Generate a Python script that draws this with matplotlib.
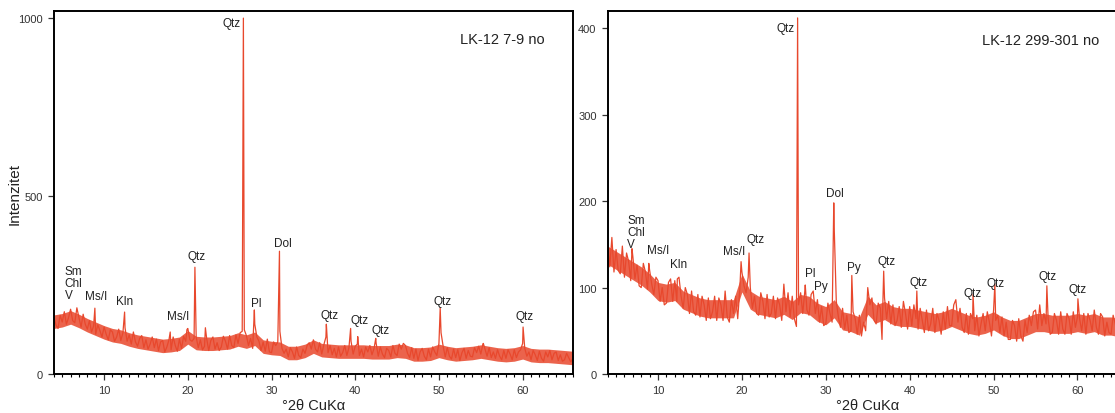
"""
XRD patterns of two LK-12 samples (non-oriented), side by side.
"""

import numpy as np
import matplotlib
matplotlib.use("Agg")
import matplotlib.pyplot as plt
from matplotlib.ticker import MultipleLocator

plt.rcParams["font.family"] = ["Liberation Sans", "DejaVu Sans"]

LINE_COLOR = "#e8482d"

# ---------------------------------------------------------------------------
# Data
# ---------------------------------------------------------------------------

# background scan, one value every 0.25 deg 2theta from 4 to 66
two_theta = np.arange(4, 66.01, 0.25)

left_counts = [
    160, 138, 128, 165,   # 4
    146, 175, 140, 158,   # 5
    182, 150, 144, 186,   # 6
    158, 132, 168, 140,   # 7
    126, 150, 118, 135,   # 8
    112, 138, 122, 104,   # 9
    132, 112, 96, 124,    # 10
    118, 92, 104, 126,    # 11
    94, 116, 130, 92,     # 12
    110, 84, 118, 90,     # 13
    78, 100, 108, 74,     # 14
    96, 70, 84, 104,      # 15
    74, 98, 66, 90,       # 16
    94, 62, 76, 96,       # 17
    68, 104, 80, 64,      # 18
    98, 72, 106, 92,      # 19
    128, 96, 92, 100,     # 20
    104, 74, 96, 68,      # 21
    78, 100, 66, 94,      # 22
    104, 70, 88, 66,      # 23
    76, 106, 92, 70,      # 24
    108, 80, 74, 110,     # 25
    86, 116, 120, 124,    # 26
    108, 80, 100, 72,     # 27
    140, 104, 92, 66,     # 28
    90, 64, 98, 62,       # 29
    60, 90, 80, 90,       # 30
    120, 72, 58, 70,      # 31
    48, 74, 62, 44,       # 32
    76, 52, 46, 70,       # 33
    58, 80, 88, 70,       # 34
    96, 70, 62, 88,       # 35
    56, 82, 104, 60,      # 36
    80, 54, 72, 48,       # 37
    76, 50, 60, 80,       # 38
    52, 74, 92, 56,       # 39
    78, 84, 52, 70,       # 40
    48, 76, 62, 80,       # 41
    54, 72, 86, 50,       # 42
    76, 56, 46, 72,       # 43
    66, 48, 80, 58,       # 44
    52, 84, 70, 86,       # 45
    80, 58, 46, 74,       # 46
    44, 70, 38, 62,       # 47
    72, 50, 40, 70,       # 48
    48, 76, 62, 52,       # 49
    86, 116, 78, 48,      # 50
    74, 50, 42, 70,       # 51
    46, 68, 38, 60,       # 52
    72, 44, 66, 50,       # 53
    48, 74, 60, 78,       # 54
    56, 84, 70, 50,       # 55
    74, 46, 62, 44,       # 56
    68, 50, 40, 66,       # 57
    44, 68, 56, 40,       # 58
    68, 46, 62, 68,       # 59
    86, 72, 50, 62,       # 60
    40, 66, 54, 38,       # 61
    64, 44, 36, 62,       # 62
    48, 66, 40, 58,       # 63
    62, 38, 54, 36,       # 64
    40, 58, 46, 34,       # 65
    44,
]

right_counts = [
    150, 124, 158, 118,   # 4
    144, 120, 116, 148,   # 5
    112, 140, 130, 108,   # 6
    136, 110, 126, 102,   # 7
    100, 128, 118, 98,    # 8
    120, 104, 92, 112,    # 9
    108, 84, 100, 80,     # 10
    82, 106, 110, 84,     # 11
    108, 84, 112, 90,     # 12
    76, 100, 92, 70,      # 13
    96, 72, 68, 92,       # 14
    66, 90, 80, 62,       # 15
    88, 64, 72, 90,       # 16
    62, 88, 80, 62,       # 17
    96, 66, 60, 86,       # 18
    70, 90, 64, 98,       # 19
    118, 102, 94, 112,    # 20
    100, 76, 90, 70,      # 21
    68, 94, 84, 64,       # 22
    92, 66, 70, 90,       # 23
    64, 88, 80, 62,       # 24
    104, 72, 94, 66,      # 25
    90, 64, 55, 80,       # 26
    94, 70, 96, 74,       # 27
    68, 92, 96, 70,       # 28
    86, 60, 78, 56,       # 29
    58, 82, 70, 60,       # 30
    170, 84, 66, 54,      # 31
    76, 52, 68, 48,       # 32
    50, 72, 64, 46,       # 33
    68, 44, 60, 50,       # 34
    100, 80, 88, 62,      # 35
    58, 82, 76, 62,       # 36
    88, 64, 84, 58,       # 37
    80, 56, 62, 78,       # 38
    54, 84, 70, 52,       # 39
    78, 56, 80, 64,       # 40
    52, 76, 62, 48,       # 41
    74, 50, 58, 76,       # 42
    48, 70, 62, 46,       # 43
    72, 52, 78, 56,       # 44
    56, 80, 86, 60,       # 45
    76, 54, 48, 70,       # 46
    46, 70, 64, 50,       # 47
    68, 44, 58, 70,       # 48
    50, 72, 60, 44,       # 49
    74, 62, 68, 48,       # 50
    66, 44, 60, 40,       # 51
    40, 62, 56, 38,       # 52
    64, 44, 38, 62,       # 53
    48, 68, 56, 72,       # 54
    74, 52, 80, 56,       # 55
    70, 58, 64, 46,       # 56
    48, 70, 62, 46,       # 57
    72, 52, 46, 70,       # 58
    64, 46, 72, 54,       # 59
    66, 64, 50, 70,       # 60
    46, 70, 62, 50,       # 61
    74, 54, 46, 70,       # 62
    66, 44, 60, 48,       # 63
    46, 68, 58, 44,       # 64
    66, 48, 42, 62,       # 65
    52,
]

# dense core of the noise band (the scan is so dense it reads as a band),
# one lower / upper value per whole degree from 4 to 66
band_theta = np.arange(4, 67, 1)

left_band_low = [128, 132, 140, 130, 118, 108, 98, 90, 86, 78, 72, 68, 64,
                 60, 62, 66, 84, 68, 66, 66, 68, 70, 78, 72, 80, 58, 54, 52,
                 40, 40, 46, 58, 48, 46, 44, 44, 44, 44, 42, 42, 42, 46, 44,
                 36, 36, 38, 46, 40, 36, 38, 40, 44, 40, 36, 34, 36, 42, 34,
                 32, 32, 30, 28, 26]
left_band_high = [166, 170, 178, 168, 156, 146, 136, 128, 124, 116, 110, 106,
                  102, 98, 100, 104, 122, 106, 104, 104, 106, 108, 116, 110,
                  118, 96, 92, 90, 78, 78, 84, 96, 86, 84, 82, 82, 82, 82, 80,
                  80, 80, 84, 82, 74, 74, 76, 84, 78, 74, 76, 78, 82, 78, 74,
                  72, 74, 80, 72, 70, 70, 68, 66, 64]

right_band_low = [127, 121, 115, 109, 103, 95, 85, 83, 85, 75, 71, 67, 65,
                  65, 65, 65, 95, 75, 69, 67, 65, 69, 63, 71, 69, 61, 57, 65,
                  51, 49, 45, 69, 59, 63, 57, 55, 55, 53, 51, 49, 51, 55, 51,
                  47, 45, 47, 51, 45, 41, 41, 45, 49, 49, 47, 47, 47, 49, 47,
                  49, 45, 45, 43, 41]
right_band_high = [148, 142, 136, 130, 124, 116, 106, 104, 106, 96, 92, 88,
                   86, 86, 86, 86, 116, 96, 90, 88, 86, 90, 84, 92, 90, 82,
                   78, 86, 72, 70, 66, 90, 80, 84, 78, 76, 76, 74, 72, 70, 72,
                   76, 72, 68, 66, 68, 72, 66, 62, 62, 66, 70, 70, 68, 68, 68,
                   70, 68, 70, 66, 66, 64, 62]

# sharp reflections sitting on the background
left_peak_pos = [8.9, 12.45, 17.9, 19.9, 20.85, 22.1, 26.64, 27.95, 30.95,
                 36.55, 39.45, 40.3, 42.45, 50.15, 55.3, 60.05]
left_peak_int = [185, 174, 118, 125, 300, 130, 1000, 180, 345,
                 140, 128, 105, 100, 185, 86, 132]

right_peak_pos = [6.9, 8.9, 12.3, 19.9, 20.85, 26.64, 27.55, 30.95, 33.1,
                  36.7, 36.9, 40.85, 47.55, 50.15, 56.35, 60.05]
right_peak_int = [145, 128, 110, 130, 140, 412, 103, 198, 114,
                  40, 119, 96, 92, 104, 102, 87]

# phase labels: text, 2theta, intensity of the text bottom
left_labels = ["Sm\nChl\nV", "Ms/I", "Kln", "Ms/I", "Qtz", "Pl", "Dol",
               "Qtz", "Qtz", "Qtz", "Qtz", "Qtz"]
left_label_x = [5.3, 9.0, 12.5, 18.9, 21.1, 28.2, 31.3,
                36.9, 40.5, 43.0, 50.4, 60.2]
left_label_y = [205, 203, 188, 146, 314, 183, 351,
                149, 135, 107, 188, 146]

right_labels = ["Sm\nChl\nV", "Ms/I", "Kln", "Ms/I", "Qtz", "Pl", "Py",
                "Dol", "Py", "Qtz", "Qtz", "Qtz", "Qtz", "Qtz", "Qtz"]
right_label_x = [6.35, 10.0, 12.5, 19.05, 21.65, 28.1, 29.4,
                 31.05, 33.4, 37.2, 41.1, 47.55, 50.25, 56.4, 60.05]
right_label_y = [144, 137, 120, 135, 149, 110, 95,
                 202, 117, 124, 100, 87, 98, 107, 91]

# ---------------------------------------------------------------------------
# Plot
# ---------------------------------------------------------------------------


def draw_panel(ax, counts, band_low, band_high, peak_pos, peak_int,
               labels, lab_x, lab_y, top_peak_y, sample, sample_y,
               ymax, yticks):
    ax.fill_between(band_theta, band_low, band_high, color=LINE_COLOR,
                    alpha=0.85, linewidth=0)
    x = np.concatenate([two_theta, peak_pos])
    y = np.concatenate([counts, peak_int])
    order = np.argsort(x)
    ax.plot(x[order], y[order], color=LINE_COLOR, linewidth=0.9)

    for txt, lx, ly in zip(labels, lab_x, lab_y):
        if "\n" in txt:
            ax.text(lx, ly, txt, ha="left", va="bottom", fontsize=8.5,
                    linespacing=1.0, color="#222222")
        else:
            ax.text(lx, ly, txt, ha="center", va="bottom", fontsize=8.5,
                    color="#222222")
    # label of the main quartz reflection, left of the peak
    ax.text(26.3, top_peak_y, "Qtz", ha="right", va="center", fontsize=8.5,
            color="#222222")

    ax.text(62.6, sample_y, sample, ha="right", va="center", fontsize=10.5,
            color="#222222")

    ax.set_xlim(4, 66)
    ax.set_ylim(0, ymax)
    ax.set_yticks(yticks)
    ax.xaxis.set_major_locator(MultipleLocator(10))
    ax.xaxis.set_minor_locator(MultipleLocator(1))
    ax.tick_params(axis="both", which="major", direction="out", length=4.5,
                   width=0.9, labelsize=8, colors="#333333")
    ax.tick_params(axis="x", which="minor", direction="out", length=2.2,
                   width=0.8)
    for side in ("left", "bottom", "top", "right"):
        ax.spines[side].set_linewidth(1.4)
    ax.set_xlabel("°2θ CuKα", fontsize=10.5, labelpad=2, color="#222222")


fig = plt.figure(figsize=(11.15, 4.14), dpi=100)
ax1 = fig.add_axes([0.0483, 0.0942, 0.4655, 0.8768])
ax2 = fig.add_axes([0.5450, 0.0942, 0.4665, 0.8768])

draw_panel(ax1, left_counts, left_band_low, left_band_high,
           left_peak_pos, left_peak_int, left_labels, left_label_x,
           left_label_y, 985, "LK-12 7-9 no", 941, 1020, [0, 500, 1000])
draw_panel(ax2, right_counts, right_band_low, right_band_high,
           right_peak_pos, right_peak_int, right_labels, right_label_x,
           right_label_y, 400, "LK-12 299-301 no", 387, 420,
           [0, 100, 200, 300, 400])

ax1.set_ylabel("Intenzitet", fontsize=11, color="#222222")
ax1.yaxis.set_label_coords(-0.062, 0.5)

fig.savefig("out.png", dpi=100)
plt.close(fig)
